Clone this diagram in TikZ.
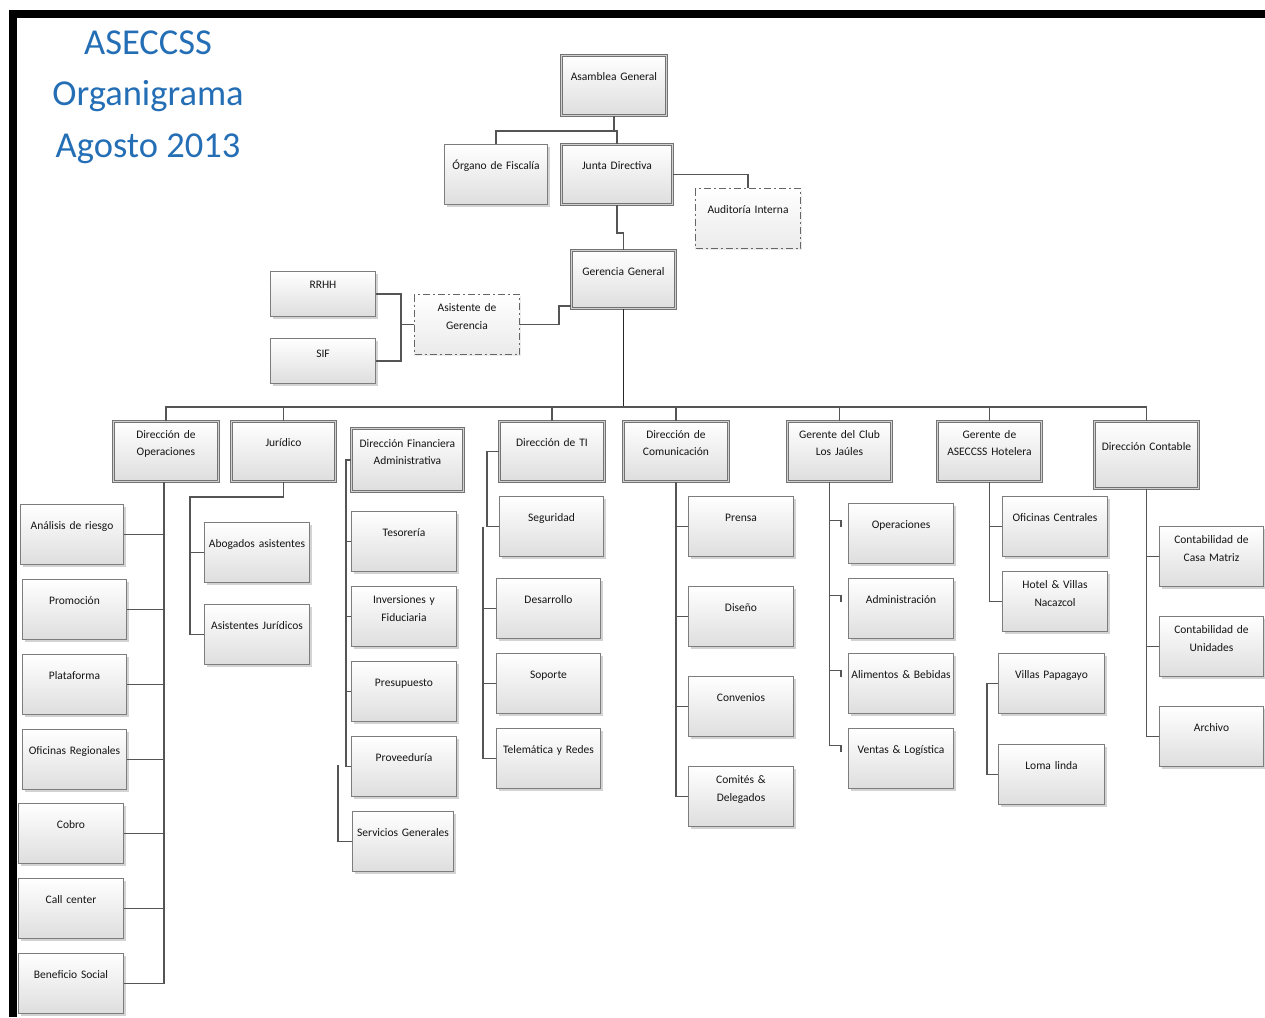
\documentclass[tikz,border=0pt]{standalone}
\usepackage{fontspec}
\setmainfont{Carlito}
\usetikzlibrary{shadows}
\definecolor{titleblue}{RGB}{36,110,182}
\definecolor{linegray}{RGB}{85,85,85}
\definecolor{rimgray}{RGB}{125,125,125}
\tikzstyle{conn} = [draw=linegray, line width=1.2pt]

\begin{document}
\begin{tikzpicture}[
    x=1pt, y=-1pt,
    org-base/.style={draw=rimgray, line width=1pt, anchor=north west, inner sep=0pt,
      top color=white, bottom color=black!13, text=black!92,
      text width=105pt, align=center, text height=25pt, text depth=35pt,
      font=\fontsize{11.5}{17.5}\selectfont},
    two/.style={text height=17pt, text depth=43pt},
    org-box/.style={org-base, drop shadow={shadow xshift=2pt, shadow yshift=-2pt, opacity=0.35}},
    org-head/.style={org-box, draw=black!55, double=black!18, double distance=1.6pt, line width=0.9pt},
    org-dash/.style={org-base, draw=black!60, bottom color=black!8,
      dash pattern=on 7pt off 3pt on 2pt off 3pt,
      drop shadow={shadow xshift=1.5pt, shadow yshift=-1.5pt, opacity=0.15}},
    title/.style={align=center, text=titleblue, font=\fontsize{36.5}{51.5}\selectfont}
  ]
  \useasboundingbox (0,0) rectangle (1265,1017);
  \fill (9,10) rectangle (1265,18);
  \fill (9,10) rectangle (17,1017);

  \node[title] (ttl) at (148,97) {ASECCSS\\Organigrama\\Agosto 2013};

  % top levels
  \node[org-head] (asam) at (561,55) {Asamblea General};
  \node[org-box, text width=103pt] (fisc) at (444,144) {Órgano de Fiscalía};
  \node[org-head, text width=111pt] (junta) at (561,144) {Junta Directiva};
  \node[org-dash] (audi) at (695,188) {Auditoría Interna};
  \node[org-head, text width=104pt, text depth=33pt] (gere) at (571,250) {Gerencia General};
  \node[org-box, text height=17pt, text depth=28pt] (rrhh) at (270,271) {RRHH};
  \node[org-box, text height=19pt, text depth=26pt] (sif) at (270,338) {SIF};
  \node[org-dash, two] (asis) at (414,294) {Asistente de\\Gerencia};

  % direcciones
  \node[org-head, two] (ops) at (113,421) {Dirección de\\Operaciones};
  \node[org-head, text width=104pt] (jur) at (231,421) {Jurídico};
  \node[org-head, text width=112pt, text height=19pt, text depth=44pt] (fin) at (351,428) {Dirección Financiera\\Administrativa};
  \node[org-head] (ti) at (499,421) {Dirección de TI};
  \node[org-head, two] (comu) at (623,421) {Dirección de\\Comunicación};
  \node[org-head, two, text width=104pt] (club) at (787,421) {Gerente del Club\\Los Jaúles};
  \node[org-head, two, text width=104pt] (hotel) at (937,421) {Gerente de\\ASECCSS Hotelera};
  \node[org-head, text width=104pt, text height=29pt, text depth=38pt] (cont) at (1094,421) {Dirección Contable};

  % operaciones
  \node[org-box, text width=103pt] (ana) at (20,504) {Análisis de riesgo};
  \node[org-box, text width=104pt] (promo) at (22,579) {Promoción};
  \node[org-box, text width=104pt] (plat) at (22,654) {Plataforma};
  \node[org-box, text width=104pt] (ofreg) at (22,729) {Oficinas Regionales};
  \node[org-box] (cobro) at (18,803) {Cobro};
  \node[org-box] (callc) at (18,878) {Call center};
  \node[org-box] (benef) at (18,953) {Beneficio Social};

  % juridico
  \node[org-box] (abog) at (204,522) {Abogados asistentes};
  \node[org-box] (asju) at (204,604) {Asistentes Jurídicos};

  % financiera
  \node[org-box] (teso) at (351,511) {Tesorería};
  \node[org-box, two] (inve) at (351,586) {Inversiones y\\Fiduciaria};
  \node[org-box] (presu) at (351,661) {Presupuesto};
  \node[org-box] (prov) at (351,736) {Proveeduría};
  \node[org-box, text width=101pt] (serv) at (352,811) {Servicios Generales};

  % TI
  \node[org-box, text width=104pt] (segu) at (499,496) {Seguridad};
  \node[org-box, text width=104pt] (desa) at (496,578) {Desarrollo};
  \node[org-box, text width=104pt] (sopo) at (496,653) {Soporte};
  \node[org-box, text width=104pt] (tele) at (496,728) {Telemática y Redes};

  % comunicacion
  \node[org-box] (prensa) at (688,496) {Prensa};
  \node[org-box] (dise) at (688,586) {Diseño};
  \node[org-box] (conve) at (688,676) {Convenios};
  \node[org-box, two] (comit) at (688,766) {Comités \&\\Delegados};

  % club
  \node[org-box] (oper) at (848,503) {Operaciones};
  \node[org-box] (admi) at (848,578) {Administración};
  \node[org-box] (alim) at (848,653) {Alimentos \& Bebidas};
  \node[org-box] (vent) at (848,728) {Ventas \& Logística};

  % hotelera
  \node[org-box] (ofce) at (1002,496) {Oficinas Centrales};
  \node[org-box, two] (hovi) at (1002,571) {Hotel \& Villas\\Nacazcol};
  \node[org-box, text width=106pt] (papa) at (998,653) {Villas Papagayo};
  \node[org-box, text width=106pt] (loma) at (998,744) {Loma linda};

  % contable
  \node[org-box, two, text width=104pt] (casa) at (1159,526) {Contabilidad de\\Casa Matriz};
  \node[org-box, two, text width=104pt] (unid) at (1159,616) {Contabilidad de\\Unidades};
  \node[org-box, text width=104pt] (arch) at (1159,706) {Archivo};

  % connectors
  \draw[conn] (asam.south) -- ++(0,15) coordinate (k1);
  \draw[conn] (fisc.north) |- (k1) -| (junta.north);
  \draw[conn] (junta.east) -| (audi.north);
  \draw[conn] (junta.south) -- ++(0,28) -| (gere.north);
  \draw[conn] (asis.east) -- ++(39,0) |- ([yshift=3pt]gere.south west);
  \draw[conn] (rrhh.east) -- ++(25,0) |- (sif.east);
  \draw[conn] (asis.west) -- ++(-14,0);

  \draw[conn, line width=1.8pt, draw=black!85] (gere.south) -- ++(0,98) coordinate (hub);
  \draw[conn] (ops.north) |- (hub) -| (cont.north);
  \foreach \n in {jur,ti,comu,club,hotel}
    \draw[conn] (\n.north) -- (\n.north |- hub);

  \foreach \n in {ana,promo,plat,ofreg,cobro,callc,benef}
    \draw[conn] (\n.east) -| ([xshift=-2pt]ops.south);

  \draw[conn] (jur.south) -- ++(0,15) -| ([xshift=-14pt]asju.west) -- (asju.west);
  \draw[conn] (abog.west) -- ++(-14,0);

  \draw[conn] (fin.west) -- ++(-5,0) coordinate (finbus) |- (prov.west);
  \foreach \n in {teso,inve,presu}
    \draw[conn] (\n.west) -- (\n.west -| finbus);
  \draw[conn] (serv.west) -- ++(-14,0) -- ++(0,-77);

  \draw[conn] (ti.west) -- ++(-12,0) |- (segu.west);
  \draw[conn] ([xshift=-16pt]segu.west) coordinate (tibus) |- (tele.west);
  \foreach \n in {desa,sopo}
    \draw[conn] (\n.west) -- (\n.west -| tibus);

  \foreach \n in {prensa,dise,conve,comit}
    \draw[conn] (comu.south) |- (\n.west);

  \coordinate (clubbus) at ([xshift=-10pt]club.south);
  \foreach \n in {oper,admi,alim,vent}{
    \path ([xshift=-7pt,yshift=13pt]\n.west) coordinate (hk);
    \draw[conn] (clubbus) |- (hk) -- ++(0,6);
  }

  \foreach \n in {ofce,hovi}
    \draw[conn] (hotel.south) |- (\n.west);
  \draw[conn] (papa.west) -- ++(-11,0) |- (loma.west);

  \foreach \n in {casa,unid,arch}
    \draw[conn] (cont.south) |- (\n.west);
\end{tikzpicture}
\end{document}
